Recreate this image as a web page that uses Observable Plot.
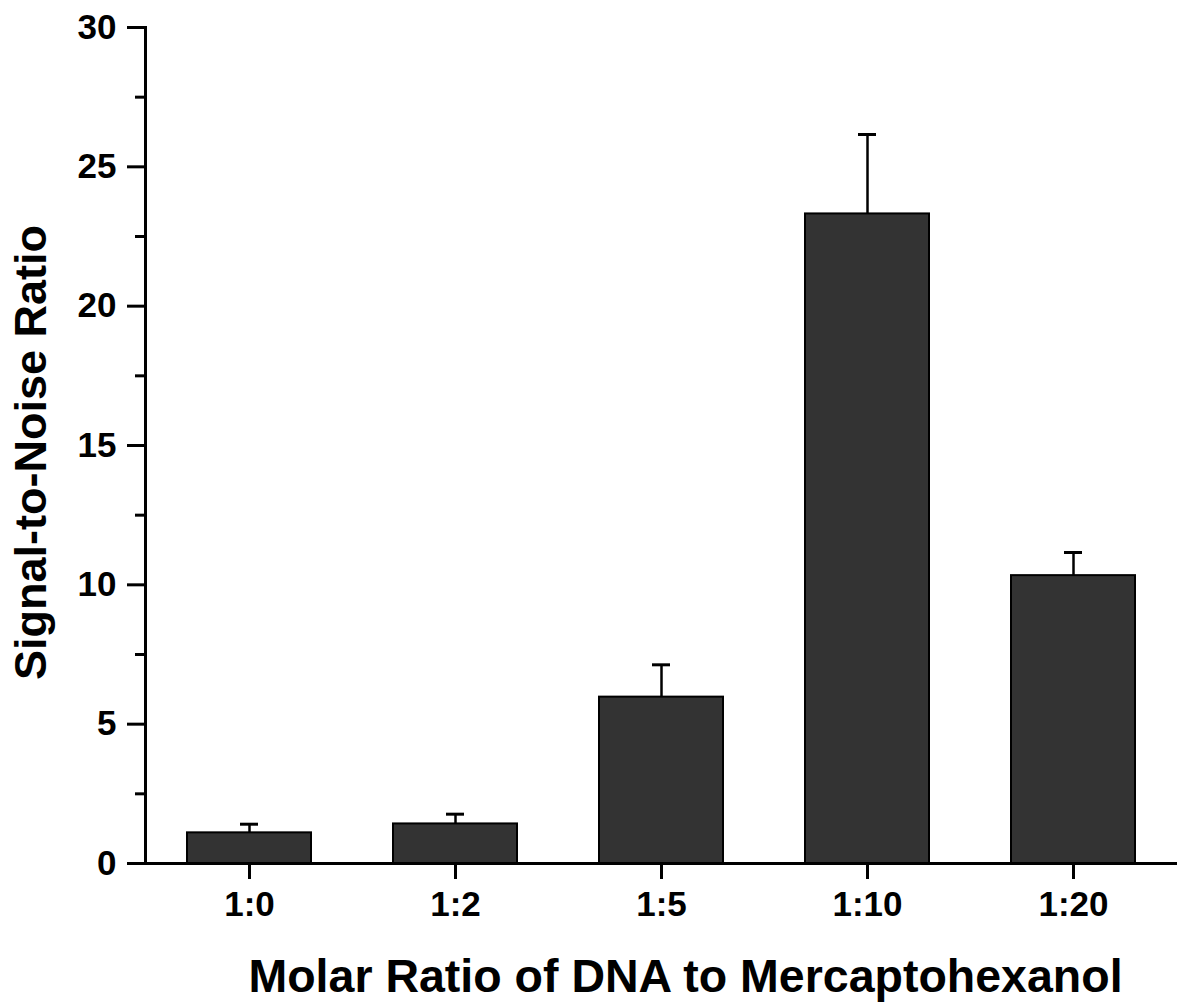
<!DOCTYPE html>
<html>
<head>
<meta charset="utf-8">
<script src="https://cdn.jsdelivr.net/npm/d3@7"></script>
<script src="https://cdn.jsdelivr.net/npm/@observablehq/plot@0.6"></script>
<style>
  html, body { margin: 0; padding: 0; background: #fff; }
  #chart svg { display: block; }
</style>
</head>
<body>
<div id="chart"></div>
<script>
const ratios = ["1:0", "1:2", "1:5", "1:10", "1:20"];
const snr = [1.10, 1.42, 5.97, 23.31, 10.33];
const errors = [0.31, 0.35, 1.16, 2.85, 0.83];
const majorTicks = [0, 5, 10, 15, 20, 25, 30];
const minorTicks = [2.5, 7.5, 12.5, 17.5, 22.5, 27.5];
const xTitle = "Molar Ratio of DNA to Mercaptohexanol";
const yTitle = "Signal-to-Noise Ratio";

const data = ratios.map((r, i) => ({ratio: r, snr: snr[i], top: snr[i] + errors[i]}));

const font = "'Liberation Sans', Arial, Helvetica, sans-serif";

const chart = Plot.plot({
  width: 1179,
  height: 1004,
  marginTop: 27,
  marginBottom: 141,
  marginLeft: 145,
  marginRight: 2,
  style: {fontFamily: font, color: "#000", background: "#fff"},
  x: {domain: ratios, paddingInner: 0.4, paddingOuter: 0.2, label: null},
  y: {domain: [0, 30], label: null},
  marks: [
    Plot.barY(data, {x: "ratio", y: "snr", fill: "#333333", stroke: "#000", strokeWidth: 2}),
    Plot.ruleX(data, {x: "ratio", y1: "snr", y2: "top", stroke: "#000", strokeWidth: 2.5}),
    Plot.tickY(data, {x: "ratio", y: "top", stroke: "#000", strokeWidth: 3, insetLeft: 53, insetRight: 53}),
    Plot.frame({anchor: "left", stroke: "#000", strokeWidth: 3}),
    Plot.ruleY([0], {stroke: "#000", strokeWidth: 3}),
    Plot.axisY({ticks: majorTicks, tickSize: 18, tickPadding: 11, strokeWidth: 3, fontSize: 35, fontWeight: "bold", label: null, fill: "#000"}),
    Plot.axisY({ticks: minorTicks, tickSize: 10, tickFormat: () => "", strokeWidth: 3, label: null}),
    Plot.axisX({tickSize: 16, tickPadding: 12, strokeWidth: 3, fontSize: 35, fontWeight: "bold", label: null, fill: "#000"}),
    Plot.text([xTitle], {frameAnchor: "bottom", textAnchor: "middle", lineAnchor: "middle", dx: 24, dy: 114, fontSize: 46.5, fontWeight: "bold", fill: "#000"}),
    Plot.text([yTitle], {frameAnchor: "left", textAnchor: "middle", lineAnchor: "middle", rotate: -90, dx: -114, dy: 7, fontSize: 45, fontWeight: "bold", fill: "#000"})
  ]
});
document.getElementById("chart").appendChild(chart);
</script>
</body>
</html>
